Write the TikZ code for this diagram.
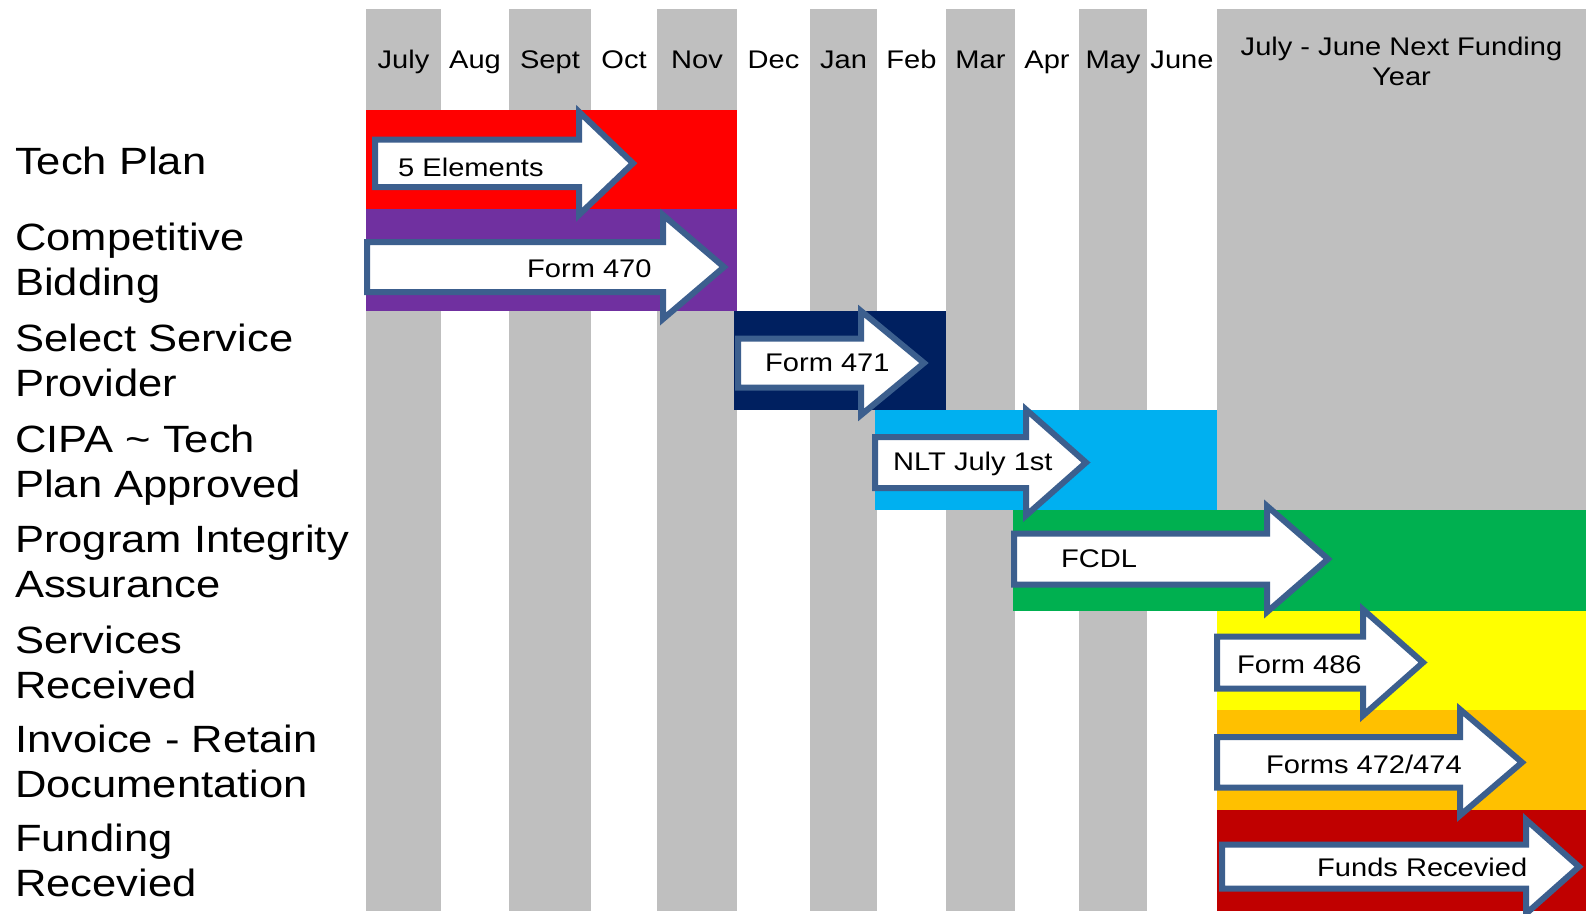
\documentclass[tikz,border=0pt]{standalone}
\usepackage{fontspec}
\setmainfont{Liberation Sans}[FakeStretch=1.14]
\newfontfamily\labelfont{Liberation Sans}[FakeStretch=1.145]
\definecolor{colgray}{HTML}{BFBFBF}
\definecolor{arrowblue}{HTML}{3C5F8E}
\definecolor{planred}{HTML}{FF0000}
\definecolor{bidpurple}{HTML}{7030A0}
\definecolor{selnavy}{HTML}{002060}
\definecolor{cipacyan}{HTML}{00B0F0}
\definecolor{piagreen}{HTML}{00B050}
\definecolor{srvyellow}{HTML}{FFFF00}
\definecolor{invorange}{HTML}{FFC000}
\definecolor{fundred}{HTML}{C00000}
% left, base, tip, middle, shaft half height, head half height
\newcommand{\taskarrow}[6]{%
  \draw[flow] (#1,#4-#5) -- (#2,#4-#5) -- (#2,#4-#6) -- (#3,#4)
    -- (#2,#4+#6) -- (#2,#4+#5) -- (#1,#4+#5) -- cycle;}
\begin{document}
\begin{tikzpicture}[x=1pt,y=-1pt,
    month/.style={font=\fontsize{25.5}{30}\selectfont, anchor=base, inner sep=0pt},
    task/.style={font=\labelfont\fontsize{38}{45}\selectfont, anchor=base west, align=left, inner sep=0pt},
    tag/.style={font=\fontsize{25.5}{30}\selectfont, anchor=base west, inner sep=0pt},
    flow/.style={draw=arrowblue, fill=white, line width=6pt}]
    \useasboundingbox (0,0) rectangle (1590,913);
    % month columns
    \foreach \l/\r in {366/441, 509/591, 657/737, 810/877, 946/1015, 1079/1147, 1217/1586}
      \fill[colgray] (\l,9) rectangle (\r,911);
    \foreach \m/\c in {July/403.5, Aug/475, Sept/550, Oct/624, Nov/697, Dec/773.5,
        Jan/843.5, Feb/911.5, Mar/980.5, Apr/1047, May/1113, June/1182}
      \node[month] (m\m) at (\c,68) {\m};
    \node[month, align=center] (nextyear) at (1401.5,85) {July - June Next Funding\\Year};
    % task labels (base = last line)
    \node[task] (techplan) at (15,174) {Tech Plan};
    \node[task] (bidding) at (15,295) {Competitive\\Bidding};
    \node[task] (provider) at (15,396) {Select Service\\Provider};
    \node[task] (cipa) at (15,497) {CIPA \textasciitilde{} Tech\\Plan Approved};
    \node[task] (pia) at (15,597) {Program Integrity\\Assurance};
    \node[task] (services) at (15,698) {Services\\Received};
    \node[task] (invoice) at (15,797) {Invoice - Retain\\Documentation};
    \node[task] (funding) at (15,896) {Funding\\Recevied};
    % bars
    \fill[planred] (366,110) rectangle (737,209);
    \fill[bidpurple] (366,209) rectangle (737,311);
    \fill[selnavy] (734,311) rectangle (946,410);
    \fill[cipacyan] (875,410) rectangle (1217,510);
    \fill[piagreen] (1013,510) rectangle (1586,611);
    \fill[srvyellow] (1217,611) rectangle (1586,710);
    \fill[invorange] (1217,710) rectangle (1586,810);
    \fill[fundred] (1217,810) rectangle (1586,911);
    % arrows
    \taskarrow{375}{579}{633}{163.3}{23.7}{51.5}
    \taskarrow{367}{663}{724}{267}{25}{52}
    \taskarrow{738}{861}{924}{363}{24.5}{52}
    \taskarrow{875}{1026}{1086}{462.5}{25.5}{53}
    \taskarrow{1014}{1267}{1328}{559}{25.5}{53}
    \taskarrow{1217}{1363}{1423}{662.5}{26}{53}
    \taskarrow{1217}{1460}{1522}{762.4}{25.3}{53}
    \taskarrow{1222}{1526}{1579}{866.7}{22}{47}
    \node[tag] (elements) at (398,176) {5 Elements};
    \node[tag] (f470) at (527,277) {Form 470};
    \node[tag] (f471) at (765,371) {Form 471};
    \node[tag] (nlt) at (893,470) {NLT July 1st};
    \node[tag] (fcdl) at (1061,567) {FCDL};
    \node[tag] (f486) at (1237,673) {Form 486};
    \node[tag] (f472) at (1266,773) {Forms 472/474};
    \node[tag] (funds) at (1317,876) {Funds Recevied};
\end{tikzpicture}
\end{document}
